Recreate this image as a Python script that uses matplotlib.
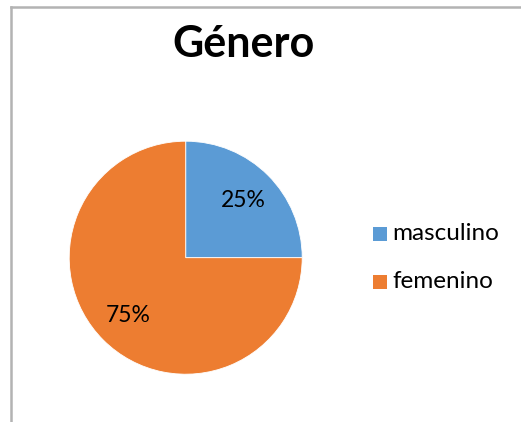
import matplotlib
matplotlib.use("Agg")
import matplotlib.pyplot as plt
from matplotlib.patches import Rectangle
from matplotlib.lines import Line2D

# data
categories = ["masculino", "femenino"]
shares = [25, 75]
colors = ["#5B9BD5", "#ED7D31"]
title = "Género"

W, H = 521, 422
fig = plt.figure(figsize=(W / 100, H / 100), dpi=100)
fig.patch.set_facecolor("white")

# chart area border (cut off at right and bottom)
fig.add_artist(Line2D([11 / W, 11 / W], [0, 1 - 7 / H], color="#b3b3b3", lw=1.8))
fig.add_artist(Line2D([11 / W, 1], [1 - 7 / H, 1 - 7 / H], color="#b3b3b3", lw=1.8))

# pie axes, centre (185.7, 257.7) px, radius 116.5 px
cx, cy, r = 185.7, 257.7, 116.5
ax = fig.add_axes([(cx - r) / W, (H - cy - r) / H, 2 * r / W, 2 * r / H])
ax.pie(shares, colors=colors, startangle=90, counterclock=False,
       autopct="%1.0f%%", pctdistance=0.7, radius=1,
       wedgeprops=dict(edgecolor="white", linewidth=0.6),
       textprops=dict(fontsize=16.5, family="Lato", color="black"))
ax.set_xlim(-1, 1)
ax.set_ylim(-1, 1)
ax.set_aspect("equal")
ax.axis("off")

fig.text(243 / W, 1 - 44 / H, title, ha="center", va="center",
         fontsize=31, fontweight="bold", family="Lato")

# legend
for i, (lab, col) in enumerate(zip(categories, colors)):
    y = 234 + i * 48
    fig.add_artist(Rectangle((373 / W, 1 - (y + 7) / H), 14 / W, 14 / H,
                             facecolor=col, edgecolor="none",
                             transform=fig.transFigure))
    fig.text(392 / W, 1 - y / H, lab, ha="left", va="center",
             fontsize=17.5, family="Lato")

fig.savefig("out.png", dpi=100)
